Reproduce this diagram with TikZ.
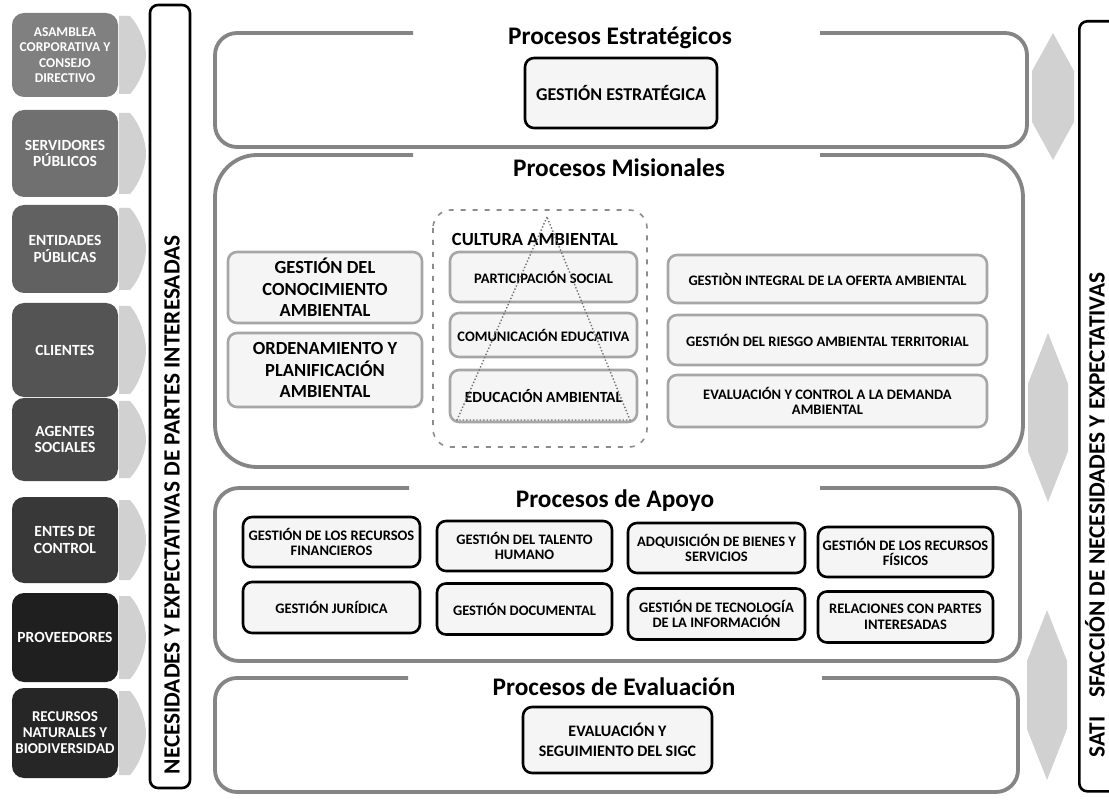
\documentclass[tikz,border=0pt]{standalone}
\usepackage{fontspec}
\setmainfont{Carlito}
\begin{document}
\begin{tikzpicture}[x=1pt,y=-1pt,
  sect/.style={draw=black!48, line width=3.8pt},
  ttl/.style={font=\bfseries\fontsize{25.3}{28}\selectfont, inner sep=0pt},
  ibox/.style={draw=black, line width=2.6pt, rounded corners=9pt, fill=black!4, align=center, inner sep=1pt, font=\bfseries\fontsize{14.5}{15.5}\selectfont},
  mbox/.style={ibox, draw=black!35},
  bigtxt/.style={font=\bfseries\fontsize{18.5}{21.5}\selectfont},
  midtxt/.style={font=\bfseries\fontsize{14.5}{15}\selectfont},
  lbox/.style={rounded corners=12pt, text=white, align=center, inner sep=1pt, minimum width=106, font=\bfseries\fontsize{15.5}{16.5}\selectfont},
  sidebar/.style={draw=black, line width=2.6pt, rounded corners=8pt, fill=white, inner sep=0pt},
  sidetxt/.style={rotate=90, inner sep=0pt, font=\bfseries\fontsize{23.3}{25}\selectfont},
  larrow/.style={fill=black!18},
  darrow/.style={fill=black!18},
]
\useasboundingbox (0,0) rectangle (1109,802);
\fill[white] (0,0) rectangle (1109,802);

% ---------- left stakeholder boxes ----------
\node[lbox, fill=black!50, minimum height=84, font=\bfseries\fontsize{13.5}{15.5}\selectfont] (s1) at (65,55) {ASAMBLEA\\CORPORATIVA Y\\CONSEJO\\DIRECTIVO};
\node[lbox, fill=black!56, minimum height=87] (s2) at (65,153.5) {SERVIDORES\\PÚBLICOS};
\node[lbox, fill=black!62, minimum height=88] (s3) at (65,249) {ENTIDADES\\PÚBLICAS};
\node[lbox, fill=black!67, minimum height=94] (s4) at (65,350) {CLIENTES};
\node[lbox, fill=black!72, minimum height=83] (s5) at (65,439.5) {AGENTES\\SOCIALES};
\node[lbox, fill=black!78, minimum height=86] (s6) at (65,540) {ENTES DE\\CONTROL};
\node[lbox, fill=black!88, minimum height=89] (s7) at (65,637.5) {PROVEEDORES};
\node[lbox, fill=black!85, minimum height=90, font=\bfseries\fontsize{15}{16}\selectfont] (s8) at (65,733) {RECURSOS\\NATURALES Y\\BIODIVERSIDAD};

\foreach \t/\b in {13/97,110/197,205/293,303/397,398/481,497/583,593/682,688/778}{
  \pgfmathsetmacro{\m}{(\t+\b)/2}
  \fill[larrow] (119,\t+3) -- (130,\t+3) .. controls (140,\t+14) and (146,\m-12) .. (146,\m)
     .. controls (146,\m+12) and (140,\b-14) .. (130,\b-3) -- (119,\b-3) -- cycle;
}

% ---------- side bars ----------
\node[sidebar, minimum width=40, minimum height=783] (lbar) at (170,396.5) {};
\node[sidetxt] (ltxt) at (172,505) {NECESIDADES Y EXPECTATIVAS DE PARTES INTERESADAS};
\node[sidebar, minimum width=52, minimum height=770, anchor=north west] (rbar) at (1078,20) {};
\node[sidetxt] (rtxt) at (1095,515) {SATI\hspace{0.6em} SFACCIÓN DE NECESIDADES Y EXPECTATIVAS};

% ---------- right double arrows ----------
\foreach \cx/\ya/\yb/\w in {1053/33/160/42,1048/333/502/40,1047/610/780/40}{
  \fill[darrow] (\cx,\ya) -- (\cx+\w/2,\ya+0.3*\yb-0.3*\ya) -- (\cx+\w/2,\yb-0.3*\yb+0.3*\ya)
     -- (\cx,\yb) -- (\cx-\w/2,\yb-0.3*\yb+0.3*\ya) -- (\cx-\w/2,\ya+0.3*\yb-0.3*\ya) -- cycle;
}

% ---------- Procesos Estratégicos ----------
\draw[sect, rounded corners=22pt] (413,33) -- (215,33) -- (215,147) -- (1027,147) -- (1027,33) -- (820,33);
\node[ttl] (t1) at (620,38) {Procesos Estratégicos};
\node[ibox, minimum width=192, minimum height=70, font=\bfseries\fontsize{18}{20}\selectfont] (ge) at (621,93) {GESTIÓN ESTRATÉGICA};

% ---------- Procesos Misionales ----------
\draw[sect, rounded corners=42pt] (413,155) -- (215,155) -- (215,467) -- (1023,467) -- (1023,155) -- (820,155);
\node[ttl] (t2) at (619,168) {Procesos Misionales};
\node[mbox, bigtxt, minimum width=194, minimum height=71] (gca) at (325,287.5) {GESTIÓN DEL\\CONOCIMIENTO\\AMBIENTAL};
\node[mbox, bigtxt, minimum width=194, minimum height=74] (opa) at (325,370) {ORDENAMIENTO Y\\PLANIFICACIÓN\\AMBIENTAL};
\draw[black!45, line width=1.6pt, dash pattern=on 5pt off 7pt, rounded corners=18pt] (433,210) rectangle (647,447);
\node[mbox, midtxt, minimum width=187, minimum height=50] (ps) at (543.5,277) {PARTICIPACIÓN SOCIAL};
\node[mbox, midtxt, minimum width=187, minimum height=44] (ce) at (543.5,335) {COMUNICACIÓN EDUCATIVA};
\node[mbox, midtxt, minimum width=187, minimum height=52, font=\bfseries\fontsize{15.5}{16}\selectfont] (ea) at (543.5,396) {EDUCACIÓN AMBIENTAL};
\node[bigtxt, inner sep=0pt] (ca) at (535,240) {CULTURA AMBIENTAL};
\draw[black!55, line width=1.4pt, dotted] (547,217) -- (457,420) -- (630,420) -- cycle;
\node[mbox, midtxt, minimum width=319, minimum height=48] (gio) at (827.5,279) {GESTIÒN INTEGRAL DE LA OFERTA AMBIENTAL};
\node[mbox, midtxt, minimum width=319, minimum height=50] (gra) at (827.5,340) {GESTIÓN DEL RIESGO AMBIENTAL TERRITORIAL};
\node[mbox, midtxt, minimum width=319, minimum height=52] (ecd) at (827.5,401) {EVALUACIÓN Y CONTROL A LA DEMANDA\\AMBIENTAL};

% ---------- Procesos de Apoyo ----------
\draw[sect, rounded corners=24pt] (409,488) -- (215,488) -- (215,661) -- (1020,661) -- (1020,488) -- (820,488);
\node[ttl] (t3) at (615,501) {Procesos de Apoyo};
\node[ibox, minimum width=177, minimum height=50] (grf) at (331.5,542) {GESTIÓN DE LOS RECURSOS\\FINANCIEROS};
\node[ibox, minimum width=175, minimum height=50] (gth) at (524.5,546) {GESTIÓN DEL TALENTO\\HUMANO};
\node[ibox, minimum width=177, minimum height=50] (abs) at (716.5,548) {ADQUISICIÓN DE BIENES Y\\SERVICIOS};
\node[ibox, minimum width=175, minimum height=50] (grfi) at (905.5,552) {GESTIÓN DE LOS RECURSOS\\FÍSICOS};
\node[ibox, minimum width=177, minimum height=51] (gj) at (331.5,607.5) {GESTIÓN JURÍDICA};
\node[ibox, minimum width=175, minimum height=51] (gd) at (524.5,609) {GESTIÓN DOCUMENTAL};
\node[ibox, minimum width=177, minimum height=51] (gti) at (716.5,614) {GESTIÓN DE TECNOLOGÍA\\DE LA INFORMACIÓN};
\node[ibox, minimum width=175, minimum height=51] (rpi) at (905.5,617) {RELACIONES CON PARTES\\INTERESADAS};

% ---------- Procesos de Evaluación ----------
\draw[sect, rounded corners=22pt] (408,678) -- (215,678) -- (215,792) -- (1018,792) -- (1018,678) -- (822,678);
\node[ttl] (t4) at (614,687) {Procesos de Evaluación};
\node[ibox, minimum width=189, minimum height=66, font=\bfseries\fontsize{16}{20}\selectfont] (esg) at (617.5,740) {EVALUACIÓN Y\\SEGUIMIENTO DEL SIGC};
\end{tikzpicture}
\end{document}
